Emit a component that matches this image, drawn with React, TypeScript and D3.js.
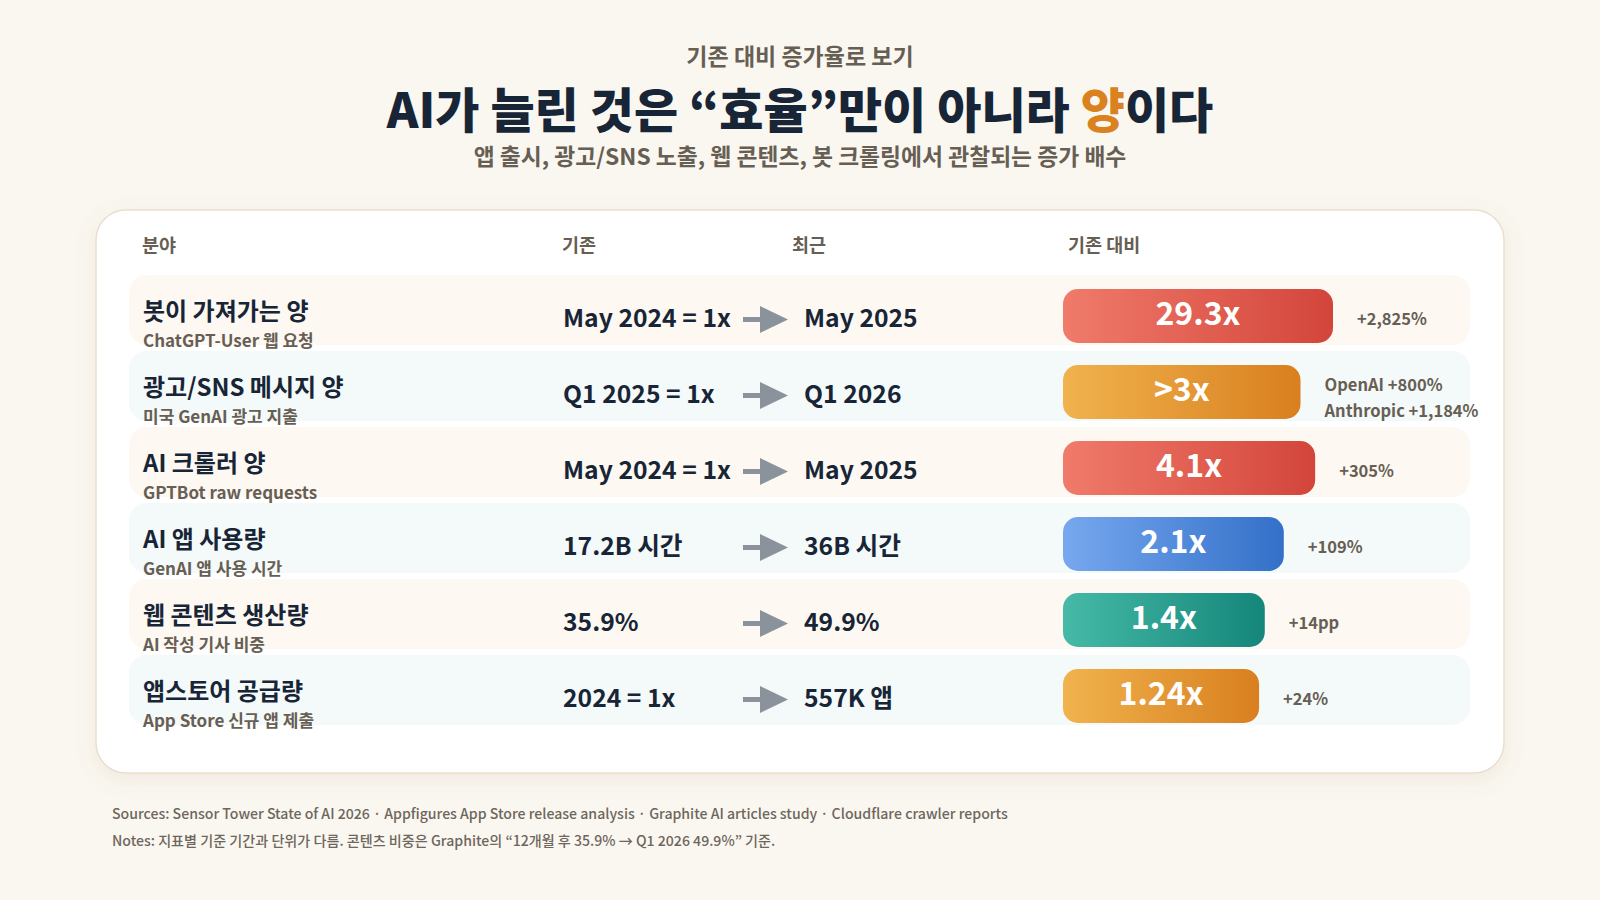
import * as d3 from "d3";

// chart data
const categories = [
  "봇이 가져가는 양",
  "광고/SNS 메시지 양",
  "AI 크롤러 양",
  "AI 앱 사용량",
  "웹 콘텐츠 생산량",
  "앱스토어 공급량",
];
const subLabels = [
  "ChatGPT-User 웹 요청",
  "미국 GenAI 광고 지출",
  "GPTBot raw requests",
  "GenAI 앱 사용 시간",
  "AI 작성 기사 비중",
  "App Store 신규 앱 제출",
];
const baseLabels = ["May 2024 = 1x", "Q1 2025 = 1x", "May 2024 = 1x", "17.2B 시간", "35.9%", "2024 = 1x"];
const recentLabels = ["May 2025", "Q1 2026", "May 2025", "36B 시간", "49.9%", "557K 앱"];
const multiples = [29.3, 3, 4.1, 2.1, 1.4, 1.24];
const multipleLabels = ["29.3x", ">3x", "4.1x", "2.1x", "1.4x", "1.24x"];
const changeLabels = [
  ["+2,825%"],
  ["OpenAI +800%", "Anthropic +1,184%"],
  ["+305%"],
  ["+109%"],
  ["+14pp"],
  ["+24%"],
];
const headers = ["분야", "기존", "최근", "기존 대비"];

const width = 1600;
const height = 900;
const font = "'Noto Sans CJK KR', 'Noto Sans', sans-serif";
const navy = "#172536";
const brown = "#675e54";

// gradient per row
const gradients: Record<string, [string, string]> = {
  red: ["#f07b6b", "#d3453a"],
  orange: ["#f0b34d", "#d97f1f"],
  blue: ["#77a8ef", "#3370c8"],
  teal: ["#46baa7", "#14867a"],
};
const rowColor = ["red", "orange", "red", "blue", "teal", "orange"];

const App = () => {
  const y = d3.scaleBand<string>().domain(categories).range([275, 725]).paddingInner(6 / 76);
  const barX = 1063;
  const barW = d3.scaleLog().domain([1, 6]).range([186, 270]).clamp(true);

  return (
    <svg
      width={width}
      height={height}
      style={{ position: "absolute", left: 0, top: 0, fontFamily: font }}
    >
      <defs>
        {Object.entries(gradients).map(([k, [a, b]]) => (
          <linearGradient key={k} id={`g-${k}`} x1="0" x2="1" y1="0" y2="0">
            <stop offset="0" stopColor={a} />
            <stop offset="1" stopColor={b} />
          </linearGradient>
        ))}
        <filter id="shadow" x="-10%" y="-10%" width="120%" height="130%">
          <feDropShadow dx="0" dy="6" stdDeviation="10" floodColor="#8a6a40" floodOpacity="0.10" />
        </filter>
      </defs>
      <rect width={width} height={height} fill="#faf7f1" />

      {/* titles */}
      <text x={800} y={65} textAnchor="middle" fontSize={23} fontWeight={700} fill={brown}>
        기존 대비 증가율로 보기
      </text>
      <text x={800} y={128} textAnchor="middle" fontSize={48} fontWeight={900} fill={navy}>
        AI가 늘린 것은 “효율”만이 아니라 <tspan fill="#d9821f">양</tspan>이다
      </text>
      <text x={800} y={165} textAnchor="middle" fontSize={22.8} fontWeight={700} fill={brown}>
        앱 출시, 광고/SNS 노출, 웹 콘텐츠, 봇 크롤링에서 관찰되는 증가 배수
      </text>

      {/* card */}
      <rect x={96} y={210} width={1408} height={563} rx={30} fill="#ffffff" stroke="#eadfce" strokeWidth={1.5} filter="url(#shadow)" />

      {/* header */}
      {headers.map((h, i) => (
        <text key={h} x={[142, 562, 792, 1068][i]} y={252} fontSize={18.5} fontWeight={700} fill={brown}>
          {h}
        </text>
      ))}

      {categories.map((c, i) => {
        const y0 = y(c)!;
        const w = barW(multiples[i]);
        const lines = changeLabels[i];
        return (
          <g key={c}>
            <rect x={129} y={y0} width={1341} height={y.bandwidth()} rx={18} fill={i % 2 === 0 ? "#fdf8f2" : "#f4f9f9"} />
            <text x={143} y={y0 + 45} fontSize={24} fontWeight={700} fill={navy}>{c}</text>
            <text x={143} y={y0 + 72} fontSize={17} fontWeight={600} fill={brown}>{subLabels[i]}</text>
            <text x={563} y={y0 + 52} fontSize={24.7} fontWeight={700} fill={navy}>{baseLabels[i]}</text>
            <rect x={743} y={y0 + 42} width={20} height={5} fill="#8a939b" />
            <path d={`M760,${y0 + 31}L788,${y0 + 44.5}L760,${y0 + 58}Z`} fill="#8a939b" />
            <text x={804} y={y0 + 52} fontSize={24.7} fontWeight={700} fill={navy}>{recentLabels[i]}</text>
            <rect x={barX} y={y0 + 14} width={w} height={54} rx={15} fill={`url(#g-${rowColor[i]})`} />
            <text x={barX + w / 2} y={y0 + 50} textAnchor="middle" fontSize={32} fontWeight={700} fill="#ffffff">
              {multipleLabels[i]}
            </text>
            {lines.map((t, j) => (
              <text
                key={t}
                x={barX + w + 24}
                y={lines.length > 1 ? y0 + 40 + j * 26 : y0 + 50}
                fontSize={16.5}
                fontWeight={700}
                fill={brown}
              >
                {t}
              </text>
            ))}
          </g>
        );
      })}

      {/* footer */}
      <text x={112} y={819} fontSize={14.1} fontWeight={500} fill="#6e665c">
        Sources: Sensor Tower State of AI 2026 · Appfigures App Store release analysis · Graphite AI articles study · Cloudflare crawler reports
      </text>
      <text x={112} y={846} fontSize={14.1} fontWeight={500} fill="#6e665c">
        Notes: 지표별 기준 기간과 단위가 다름. 콘텐츠 비중은 Graphite의 “12개월 후 35.9% → Q1 2026 49.9%” 기준.
      </text>
    </svg>
  );
};

export default App;
